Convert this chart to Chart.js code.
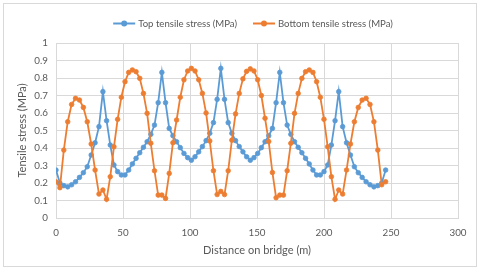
<!DOCTYPE html>
<html>
<head>
<meta charset="utf-8">
<script src="https://cdn.jsdelivr.net/npm/chart.js@4.4.0/dist/chart.umd.min.js"></script>
<style>
html,body{margin:0;padding:0;background:#ffffff;}
#wrap{width:480px;height:271px;position:relative;}
</style>
</head>
<body>
<div id="wrap"><canvas id="c" width="480" height="271"></canvas></div>
<script>
// ---------- DATA ----------
const distance = [
  0, 2.92, 5.83, 8.75, 11.67, 14.58, 17.5, 20.42, 23.33, 26.25, 29.17, 32.08, 35,
  37.75, 40.5, 43.25, 46, 48.75, 51.5, 54.25, 57, 59.75, 62.5, 65.25, 68, 70.75, 73.5, 76.25, 79,
  81.75, 84.5, 87.25, 90, 92.75, 95.5, 98.25, 101, 103.75, 106.5, 109.25, 112, 114.75, 117.5, 120.25, 123,
  125.75, 128.5, 131.25, 134, 136.75, 139.5, 142.25, 145, 147.75, 150.5, 153.25, 156, 158.75, 161.5, 164.25, 167,
  169.75, 172.5, 175.25, 178, 180.75, 183.5, 186.25, 189, 191.75, 194.5, 197.25, 200, 202.75, 205.5, 208.25, 211,
  213.92, 216.83, 219.75, 222.67, 225.58, 228.5, 231.42, 234.33, 237.25, 240.17, 243.08, 246
];
const topStress = [
  0.274, 0.200, 0.185, 0.178, 0.190, 0.207, 0.232, 0.259, 0.293, 0.360, 0.430, 0.522, 0.722,
  0.556, 0.417, 0.303, 0.265, 0.246, 0.246, 0.274, 0.309, 0.341, 0.373, 0.404, 0.436, 0.478, 0.531, 0.659, 0.832,
  0.659, 0.512, 0.470, 0.436, 0.402, 0.369, 0.345, 0.330, 0.350, 0.378, 0.408, 0.442, 0.484, 0.545, 0.678, 0.855,
  0.678, 0.545, 0.484, 0.442, 0.408, 0.378, 0.350, 0.330, 0.345, 0.369, 0.402, 0.436, 0.470, 0.512, 0.659, 0.832,
  0.659, 0.531, 0.478, 0.436, 0.404, 0.373, 0.341, 0.309, 0.274, 0.246, 0.246, 0.265, 0.303, 0.417, 0.556, 0.722,
  0.522, 0.430, 0.360, 0.293, 0.259, 0.232, 0.207, 0.190, 0.178, 0.185, 0.200, 0.274
];
const bottomStress = [
  0.207, 0.173, 0.388, 0.550, 0.649, 0.684, 0.674, 0.632, 0.550, 0.423, 0.274, 0.137, 0.160,
  0.107, 0.236, 0.407, 0.564, 0.690, 0.779, 0.832, 0.846, 0.836, 0.798, 0.712, 0.598, 0.427, 0.270, 0.131, 0.131,
  0.112, 0.255, 0.430, 0.560, 0.690, 0.790, 0.840, 0.855, 0.840, 0.790, 0.712, 0.600, 0.440, 0.270, 0.134, 0.152,
  0.134, 0.270, 0.445, 0.595, 0.712, 0.795, 0.838, 0.852, 0.840, 0.790, 0.700, 0.570, 0.437, 0.260, 0.116, 0.131,
  0.131, 0.270, 0.427, 0.598, 0.712, 0.798, 0.836, 0.846, 0.832, 0.779, 0.690, 0.564, 0.407, 0.236, 0.107, 0.160,
  0.137, 0.274, 0.423, 0.550, 0.632, 0.674, 0.684, 0.649, 0.550, 0.388, 0.190, 0.207
];
const seriesNames = ['Top tensile stress (MPa)', 'Bottom tensile stress (MPa)'];
const xTickValues = [0, 50, 100, 150, 200, 250, 300];
const xTickLabels = ['0', '50', '100', '150', '200', '250', '300'];
const yTickValues = [0, 0.1, 0.2, 0.3, 0.4, 0.5, 0.6, 0.7, 0.8, 0.9, 1];
const yTickLabels = ['0', '0.1', '0.2', '0.3', '0.4', '0.5', '0.6', '0.7', '0.8', '0.9', '1'];
const xTitle = 'Distance on bridge (m)';
const yTitle = 'Tensile stress (MPa)';

// ---------- STYLE ----------
const FONT = 'Lato, "Liberation Sans", sans-serif';
const BLUE = '#5B9BD5', ORANGE = '#ED7D31', TXT = '#595959', GRID = '#D9D9D9';
const seriesColors = [BLUE, ORANGE];

const framePlugin = {
  id: 'frameAndLegend',
  beforeDraw(chart) {
    const ctx = chart.ctx;
    ctx.save();
    ctx.fillStyle = '#ffffff';
    ctx.fillRect(0, 0, chart.width, chart.height);
    ctx.strokeStyle = GRID;
    ctx.lineWidth = 1;
    ctx.strokeRect(3.5, 3.5, 473, 263);
    ctx.restore();
  },
  afterDraw(chart) {
    const ctx = chart.ctx;
    ctx.save();
    const size = 9.6;
    ctx.font = size + 'px ' + FONT;
    const markW = 22, gapMT = 3, gapItems = 16;
    const widths = seriesNames.map(t => ctx.measureText(t).width);
    let total = 0;
    widths.forEach((w, i) => { total += markW + gapMT + w + (i ? gapItems : 0); });
    let x = 253 - total / 2;
    const cy = 23.5;
    seriesNames.forEach((t, i) => {
      const col = seriesColors[i];
      ctx.strokeStyle = col;
      ctx.lineWidth = 2;
      ctx.beginPath();
      ctx.moveTo(x, cy);
      ctx.lineTo(x + markW, cy);
      ctx.stroke();
      ctx.fillStyle = col;
      ctx.beginPath();
      ctx.arc(x + markW / 2, cy, 3, 0, Math.PI * 2);
      ctx.fill();
      ctx.fillStyle = TXT;
      ctx.textBaseline = 'middle';
      ctx.textAlign = 'left';
      ctx.fillText(t, x + markW + gapMT, cy);
      x += markW + gapMT + widths[i] + gapItems;
    });
    ctx.restore();
  }
};

const toPoints = arr => distance.map((d, i) => ({ x: d, y: arr[i] }));

new Chart(document.getElementById('c'), {
  type: 'line',
  data: {
    datasets: [
      {
        label: seriesNames[0],
        data: toPoints(topStress),
        borderColor: BLUE, backgroundColor: BLUE,
        pointBackgroundColor: BLUE, pointBorderColor: BLUE,
        borderWidth: 1.8, pointRadius: 2.3, pointBorderWidth: 0.8,
        tension: 0, order: 1
      },
      {
        label: seriesNames[1],
        data: toPoints(bottomStress),
        borderColor: ORANGE, backgroundColor: ORANGE,
        pointBackgroundColor: ORANGE, pointBorderColor: ORANGE,
        borderWidth: 1.8, pointRadius: 2.3, pointBorderWidth: 0.8,
        tension: 0, order: 0
      }
    ]
  },
  options: {
    responsive: false,
    animation: false,
    devicePixelRatio: 1,
    layout: { padding: { left: 0, right: 22, top: 43, bottom: 10 } },
    plugins: { legend: { display: false }, tooltip: { enabled: false } },
    scales: {
      x: {
        type: 'linear', min: 0, max: 300,
        afterBuildTicks: s => { s.ticks = xTickValues.map(v => ({ value: v })); },
        afterFit: s => { s.height = 43; },
        ticks: {
          callback: (v, i) => xTickLabels[i],
          color: TXT, font: { family: FONT, size: 9.8 }, padding: 9,
          maxRotation: 0, autoSkip: false
        },
        grid: { color: GRID, lineWidth: 1, drawTicks: false },
        border: { color: GRID, width: 1 },
        title: { display: true, text: xTitle, color: TXT, font: { family: FONT, size: 11 }, padding: { top: 4, bottom: 4 } }
      },
      y: {
        type: 'linear', min: 0, max: 1,
        afterBuildTicks: s => { s.ticks = yTickValues.map(v => ({ value: v })); },
        afterFit: s => { s.width = 56; },
        ticks: {
          callback: (v, i) => yTickLabels[i],
          color: TXT, font: { family: FONT, size: 9.8 }, padding: 8, autoSkip: false
        },
        grid: { color: GRID, lineWidth: 1, drawTicks: false },
        border: { color: GRID, width: 1 },
        title: { display: true, text: yTitle, color: TXT, font: { family: FONT, size: 11 }, padding: { top: 16, bottom: 0 } }
      }
    }
  },
  plugins: [framePlugin]
});
</script>
</body>
</html>
